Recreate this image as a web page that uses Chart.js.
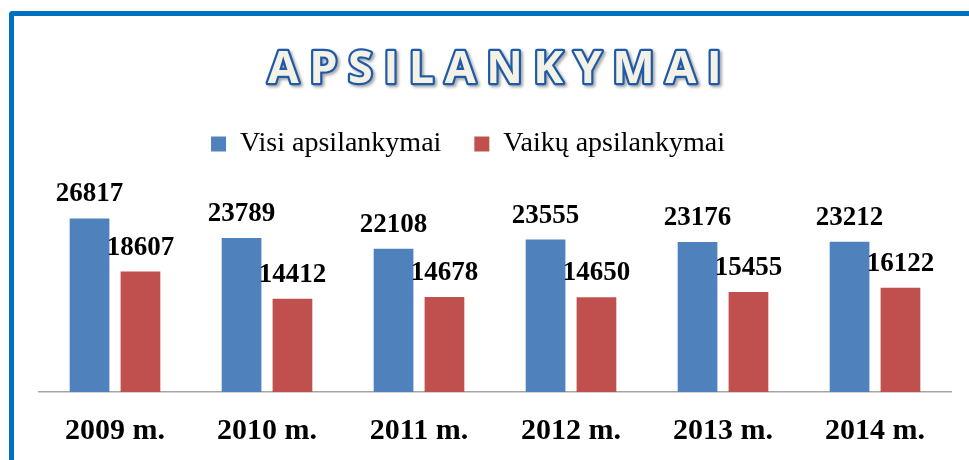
<!DOCTYPE html>
<html>
<head>
<meta charset="utf-8">
<script src="https://cdn.jsdelivr.net/npm/chart.js@4.4.1/dist/chart.umd.min.js"></script>
<style>
  html, body { margin: 0; padding: 0; background: #fff; }
  #wrap { position: relative; width: 969px; height: 460px; overflow: hidden; }
  #frame {
    position: absolute; left: 9px; top: 11px; right: -10px; bottom: -10px;
    border-top: 5px solid #0070C0; border-left: 5px solid #0070C0;
    border-top-left-radius: 4px;
  }
  canvas { position: absolute; left: 0; top: 0; }
</style>
</head>
<body>
<div id="wrap">
  <div id="frame"></div>
  <canvas id="visitsChart" width="969" height="460"></canvas>
</div>
<script>
// duomenys
const TITLE = 'APSILANKYMAI';
const YEARS = ['2009 m.', '2010 m.', '2011 m.', '2012 m.', '2013 m.', '2014 m.'];
const SERIES_NAMES = ['Visi apsilankymai', 'Vaikų apsilankymai'];
const ALL_VISITS = [26817, 23789, 22108, 23555, 23176, 23212];
const CHILD_VISITS = [18607, 14412, 14678, 14650, 15455, 16122];

const BLUE = '#4F81BD';
const RED = '#C0504D';

// pavadinimas su kontūru ir šešėliu
const outlinedTitle = {
    id: 'outlinedTitle',
    afterDraw(chart) {
        const c = chart.ctx;
        const x = (chart.chartArea.left + chart.chartArea.right) / 2;
        c.save();
        c.font = 'bold 45px "Open Sans"';
        c.letterSpacing = '10.5px';
        c.textAlign = 'center';
        c.textBaseline = 'alphabetic';
        c.lineJoin = 'round';
        c.shadowColor = 'rgba(0,0,0,0.35)';
        c.shadowBlur = 3;
        c.shadowOffsetX = 2;
        c.shadowOffsetY = 2;
        c.lineWidth = 4.5;
        c.strokeStyle = '#1F5AA6';
        c.strokeText(TITLE, x + 5, 83);
        c.shadowColor = 'transparent';
        c.fillStyle = '#F4F2E6';
        c.fillText(TITLE, x + 5, 83);
        c.restore();
    }
};

// reikšmės virš stulpelių
const valueLabels = {
    id: 'valueLabels',
    afterDraw(chart) {
        const c = chart.ctx;
        c.save();
        c.font = 'bold 27px "Liberation Serif"';
        c.fillStyle = '#000';
        c.textAlign = 'center';
        c.textBaseline = 'alphabetic';
        chart.data.datasets.forEach((ds, i) => {
            chart.getDatasetMeta(i).data.forEach((bar, j) => {
                c.fillText(String(ds.data[j]), bar.x, bar.y - 17);
            });
        });
        c.restore();
    }
};

// legenda šiek tiek į kairę
const legendShift = {
    id: 'legendShift',
    afterLayout(chart) {
        chart.legend.left -= 27;
        chart.legend.right -= 27;
    }
};

const ctx = document.getElementById('visitsChart').getContext('2d');
const chart = new Chart(ctx, {
    type: 'bar',
    data: {
        labels: YEARS,
        datasets: [
            { label: SERIES_NAMES[0], data: ALL_VISITS, backgroundColor: BLUE, borderWidth: 0 },
            { label: SERIES_NAMES[1], data: CHILD_VISITS, backgroundColor: RED, borderWidth: 0 }
        ]
    },
    options: {
        responsive: false,
        animation: false,
        devicePixelRatio: 1,
        layout: { padding: { top: 97, left: 39, right: 18, bottom: 0 } },
        categoryPercentage: 0.67,
        barPercentage: 0.78,
        plugins: {
            title: { display: false },
            tooltip: { enabled: false },
            legend: {
                display: true,
                position: 'top',
                labels: {
                    color: '#000',
                    font: { family: '"Liberation Serif"', size: 28 },
                    boxWidth: 15,
                    boxHeight: 15,
                    padding: 33
                }
            }
        },
        scales: {
            x: {
                grid: { display: false },
                border: { display: true, color: '#A6A6A6', width: 1.5 },
                ticks: {
                    color: '#000',
                    padding: 13,
                    font: { family: '"Liberation Serif"', size: 30, weight: 'bold' }
                },
                afterFit(scale) { scale.height = 68; }
            },
            y: {
                display: false,
                min: 0,
                max: 34600
            }
        }
    },
    plugins: [outlinedTitle, valueLabels, legendShift]
});
</script>
</body>
</html>
